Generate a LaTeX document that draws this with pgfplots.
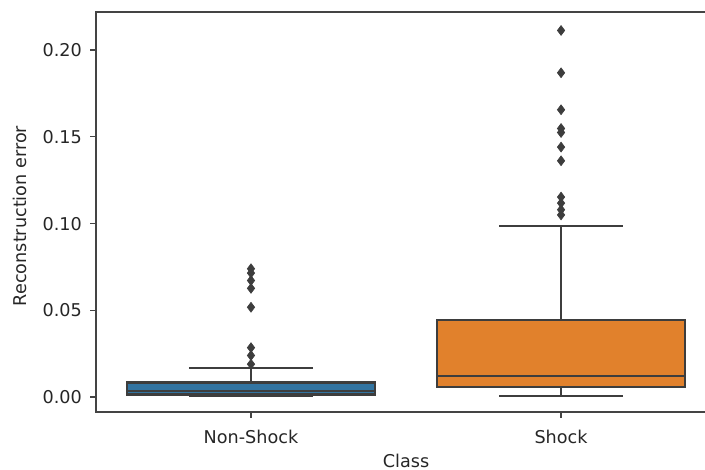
\documentclass[border=0pt]{standalone}
\usepackage{fontspec}
\setmainfont{DejaVu Sans}
\usepackage{pgfplots}
\pgfplotsset{compat=1.18}
\usepgfplotslibrary{statistics}
\definecolor{sbblue}{HTML}{3274A1}
\definecolor{sborange}{HTML}{E1812C}
\definecolor{boxline}{HTML}{3D3D3D}
\definecolor{spine}{HTML}{444444}
\definecolor{txt}{HTML}{262626}
\begin{document}
\begin{tikzpicture}
\path[use as bounding box] (-58.8pt,-35.5pt) rectangle (373.2pt,252.5pt);
\clip (-58.8pt,-35.5pt) rectangle (373.2pt,252.5pt);
\begin{axis}[
  at={(0,0)}, anchor=south west,
  scale only axis, width=380pt, height=245.1pt,
  xmin=-0.5, xmax=1.5, ymin=-0.0086, ymax=0.2219,
  xtick={0,1}, xticklabels={Non-Shock,Shock},
  ytick={0,0.05,0.10,0.15,0.20},
  yticklabel style={/pgf/number format/fixed, /pgf/number format/fixed zerofill, /pgf/number format/precision=2, anchor=east, inner sep=0pt, xshift=-4.9pt, text=txt, font=\fontsize{10.8}{12}\selectfont},
  xticklabel style={anchor=base, inner sep=0pt, yshift=-15.5pt, text=txt, font=\fontsize{10.8}{12}\selectfont},
  /pgf/number format/assume math mode=true,
  tick pos=left, tick align=outside, major tick length=3.5pt,
  every tick/.style={spine, line width=0.8pt},
  axis line style={spine, line width=0.8pt},
  xlabel={Class}, ylabel={Reconstruction error},
  xlabel style={at={(axis description cs:0.5,-0.1375)}, anchor=base, inner sep=0pt, text=txt, font=\fontsize{10.8}{12}\selectfont},
  ylabel style={at={(axis description cs:-0.1113,0.49)}, anchor=base, inner sep=0pt, rotate=0, text=txt, font=\fontsize{10.8}{12}\selectfont},
  boxplot/draw direction=y,
  boxplot/box extend=0.8,
  boxplot/whisker extend=0.4,
]
\addplot[boxplot prepared={draw position=0, lower whisker=0.0005, lower quartile=0.0015, median=0.0035, upper quartile=0.0085, upper whisker=0.0167},
  fill=sbblue, draw=boxline, line width=1.5pt,
  mark=diamond*, mark size=3pt, mark options={fill=boxline, draw=boxline, line width=0.4pt}]
  table[row sep=\\, y index=0] {data\\ 0.0740\\ 0.0715\\ 0.0672\\ 0.0627\\ 0.0518\\ 0.0285\\ 0.0240\\ 0.0190\\};
\addplot[boxplot prepared={draw position=1, lower whisker=0.0006, lower quartile=0.0059, median=0.0123, upper quartile=0.0444, upper whisker=0.0987},
  fill=sborange, draw=boxline, line width=1.5pt,
  mark=diamond*, mark size=3pt, mark options={fill=boxline, draw=boxline, line width=0.4pt}]
  table[row sep=\\, y index=0] {data\\ 0.2113\\ 0.1869\\ 0.1656\\ 0.1548\\ 0.1525\\ 0.1441\\ 0.1362\\ 0.1153\\ 0.1118\\ 0.1080\\ 0.1050\\};
\end{axis}
\end{tikzpicture}
\end{document}
